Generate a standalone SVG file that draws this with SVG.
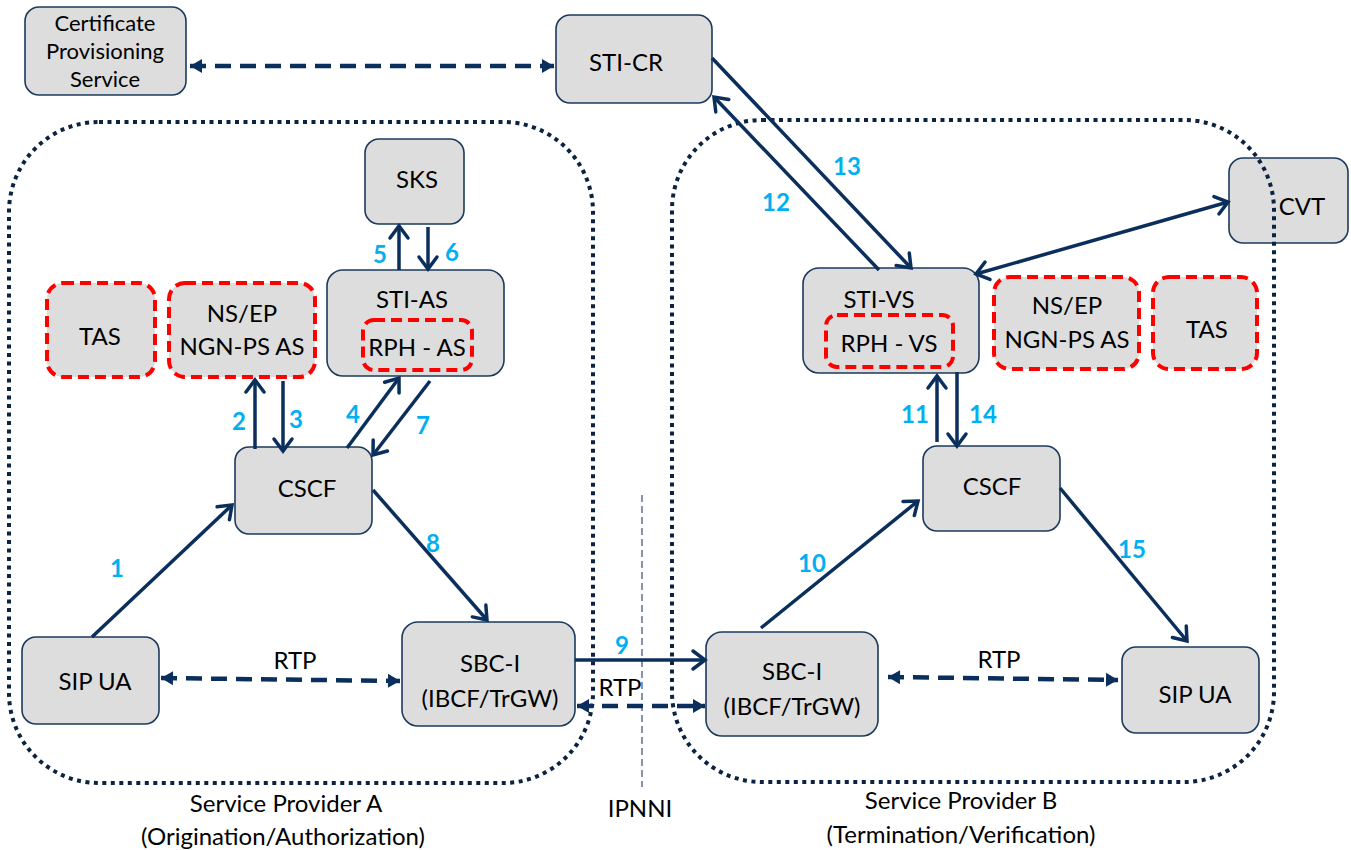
<svg xmlns="http://www.w3.org/2000/svg" width="1351" height="850" viewBox="0 0 1351 850">
<defs>
<style>
text{font-family:Lato,"Open Sans","Liberation Sans",sans-serif;fill:#000;text-anchor:middle;dominant-baseline:central}
.lbl{font-size:24px}
.small{font-size:22px}
.num{font-size:24px;font-weight:bold;fill:#00B0F0}
.box{fill:#DDDDDD;stroke:#1B3A5E;stroke-width:1.6}
.red{fill:#DDDDDD;stroke:#FF0000;stroke-width:4;stroke-dasharray:11 6}
.redin{fill:none;stroke:#FF0000;stroke-width:4;stroke-dasharray:11 6}
.conn{stroke:#0B2F5C;stroke-width:3.5;fill:none;marker-end:url(#chev)}
.dash{stroke:#0B2F5C;stroke-width:4.5;fill:none;stroke-dasharray:16 9;marker-start:url(#triS);marker-end:url(#tri)}
.region{fill:none;stroke:#0B2340;stroke-width:4;stroke-dasharray:4 4.5}
</style>
<marker id="chev" markerUnits="userSpaceOnUse" viewBox="-14 -11 16 22" refX="0" refY="0" markerWidth="16" markerHeight="22" orient="auto" overflow="visible">
<path d="M-12,-9 L0,0 L-12,9" fill="none" stroke="#0B2F5C" stroke-width="3.5" stroke-linecap="round" stroke-linejoin="miter"/>
</marker>
<marker id="chevS" markerUnits="userSpaceOnUse" viewBox="-2 -11 16 22" refX="0" refY="0" markerWidth="16" markerHeight="22" orient="auto" overflow="visible">
<path d="M12,-9 L0,0 L12,9" fill="none" stroke="#0B2F5C" stroke-width="3.5" stroke-linecap="round"/>
</marker>
<marker id="tri" markerUnits="userSpaceOnUse" viewBox="-12 -7 12 14" refX="0" refY="0" markerWidth="12" markerHeight="14" orient="auto" overflow="visible">
<path d="M-12,-7 L0,0 L-12,7 Z" fill="#0B2F5C"/>
</marker>
<marker id="triS" markerUnits="userSpaceOnUse" viewBox="0 -7 12 14" refX="0" refY="0" markerWidth="12" markerHeight="14" orient="auto" overflow="visible">
<path d="M12,-7 L0,0 L12,7 Z" fill="#0B2F5C"/>
</marker>
</defs>
<rect width="1351" height="850" fill="#FFFFFF"/>

<g id="cert">
<rect class="box" x="25" y="7" width="161" height="88" rx="14"/>
<text class="small" x="105" y="22">Certificate</text>
<text class="small" x="105" y="50">Provisioning</text>
<text class="small" x="105" y="78">Service</text>
</g>
<g id="sti-cr">
<rect class="box" x="556" y="15" width="156" height="88" rx="14"/>
<text class="lbl" x="626" y="61">STI-CR</text>
</g>
<g id="sks">
<rect class="box" x="365" y="139" width="99" height="85" rx="14"/>
<text class="lbl" x="417" y="178">SKS</text>
</g>
<g id="tas-a">
<rect class="red" x="47" y="283" width="108" height="94" rx="16"/>
<text class="lbl" x="100" y="335">TAS</text>
</g>
<g id="nsep-a">
<rect class="red" x="169" y="283" width="146" height="94" rx="16"/>
<text class="lbl" x="242" y="312">NS/EP</text>
<text class="lbl" x="242" y="345">NGN-PS AS</text>
</g>
<g id="sti-as">
<rect class="box" x="327" y="270" width="177" height="106" rx="16"/>
<text class="lbl" x="412" y="298">STI-AS</text>
<rect class="redin" x="363" y="320" width="109" height="50" rx="11"/>
<text class="lbl" x="417" y="346">RPH - AS</text>
</g>
<g id="cscf-a">
<rect class="box" x="235" y="447" width="137" height="87" rx="14"/>
<text class="lbl" x="307" y="487">CSCF</text>
</g>
<g id="sipua-a">
<rect class="box" x="22" y="637" width="137" height="87" rx="14"/>
<text class="lbl" x="95" y="680">SIP UA</text>
</g>
<g id="sbc-a">
<rect class="box" x="402" y="622" width="173" height="104" rx="16"/>
<text class="lbl" x="490" y="662">SBC-I</text>
<text class="lbl" x="490" y="697">(IBCF/TrGW)</text>
</g>
<g id="cvt">
<rect class="box" x="1229" y="158" width="119" height="85" rx="14"/>
<text class="lbl" x="1302" y="205">CVT</text>
</g>
<g id="sti-vs">
<rect class="box" x="803" y="268" width="176" height="105" rx="16"/>
<text class="lbl" x="879" y="298">STI-VS</text>
<rect class="redin" x="826" y="315" width="127" height="52" rx="11"/>
<text class="lbl" x="889" y="342">RPH - VS</text>
</g>
<g id="nsep-b">
<rect class="red" x="994" y="277" width="145" height="92" rx="16"/>
<text class="lbl" x="1067" y="304">NS/EP</text>
<text class="lbl" x="1067" y="338">NGN-PS AS</text>
</g>
<g id="tas-b">
<rect class="red" x="1153" y="277" width="104" height="92" rx="16"/>
<text class="lbl" x="1207" y="328">TAS</text>
</g>
<g id="cscf-b">
<rect class="box" x="923" y="446" width="137" height="85" rx="14"/>
<text class="lbl" x="992" y="485">CSCF</text>
</g>
<g id="sbc-b">
<rect class="box" x="706" y="632" width="172" height="104" rx="16"/>
<text class="lbl" x="792" y="670">SBC-I</text>
<text class="lbl" x="792" y="705">(IBCF/TrGW)</text>
</g>
<g id="sipua-b">
<rect class="box" x="1122" y="647" width="137" height="86" rx="14"/>
<text class="lbl" x="1195" y="693">SIP UA</text>
</g>

<g id="regions">
<rect class="region" x="9" y="122" width="584" height="661" rx="90"/>
<rect class="region" x="672" y="120" width="602" height="662" rx="90"/>
<line x1="642" y1="495" x2="642" y2="787" stroke="#2F4F75" stroke-width="1.2" stroke-dasharray="7 4"/>
<text class="lbl" x="286" y="802">Service Provider A</text>
<text class="lbl" x="283" y="835">(Origination/Authorization)</text>
<text class="lbl" x="961" y="799">Service Provider B</text>
<text class="lbl" x="961" y="833">(Termination/Verification)</text>
<text class="lbl" x="640" y="807">IPNNI</text>
</g>

<g id="connectors">
<line class="dash" x1="190" y1="66" x2="554" y2="66"/>
<line class="dash" x1="161" y1="678" x2="400" y2="681"/>
<line class="dash" x1="577" y1="706" x2="705" y2="706"/>
<line class="dash" x1="888" y1="677" x2="1118" y2="680"/>
<line class="conn" x1="92" y1="637" x2="232" y2="505"/>
<line class="conn" x1="255" y1="449" x2="255" y2="380"/>
<line class="conn" x1="283" y1="381" x2="283" y2="451"/>
<line class="conn" x1="347" y1="448" x2="399" y2="378"/>
<line class="conn" x1="430" y1="381" x2="373" y2="455"/>
<line class="conn" x1="399" y1="270" x2="399" y2="226"/>
<line class="conn" x1="428" y1="227" x2="428" y2="269"/>
<line class="conn" x1="373" y1="490" x2="487" y2="620"/>
<line class="conn" x1="575" y1="660" x2="705" y2="660"/>
<line class="conn" x1="761" y1="628" x2="918" y2="501"/>
<line class="conn" x1="937" y1="442" x2="937" y2="376"/>
<line class="conn" x1="957" y1="372" x2="957" y2="446"/>
<line class="conn" x1="879" y1="270" x2="714" y2="97"/>
<line class="conn" x1="712" y1="58" x2="911" y2="268"/>
<line class="conn" x1="1060" y1="488" x2="1187" y2="641"/>
<line class="conn" x1="976" y1="274" x2="1228" y2="202" marker-start="url(#chevS)"/>
<text class="num" x="117" y="567">1</text>
<text class="num" x="239" y="420">2</text>
<text class="num" x="296" y="418">3</text>
<text class="num" x="353" y="413">4</text>
<text class="num" x="380" y="253">5</text>
<text class="num" x="452" y="251">6</text>
<text class="num" x="423" y="424">7</text>
<text class="num" x="433" y="542">8</text>
<text class="num" x="622" y="644">9</text>
<text class="num" x="812" y="562">10</text>
<text class="num" x="915" y="413">11</text>
<text class="num" x="776" y="201">12</text>
<text class="num" x="847" y="165">13</text>
<text class="num" x="983" y="413">14</text>
<text class="num" x="1132" y="548">15</text>
<text class="lbl" x="295" y="659">RTP</text>
<text class="lbl" x="620" y="686">RTP</text>
<text class="lbl" x="999" y="658">RTP</text>
</g>
</svg>
